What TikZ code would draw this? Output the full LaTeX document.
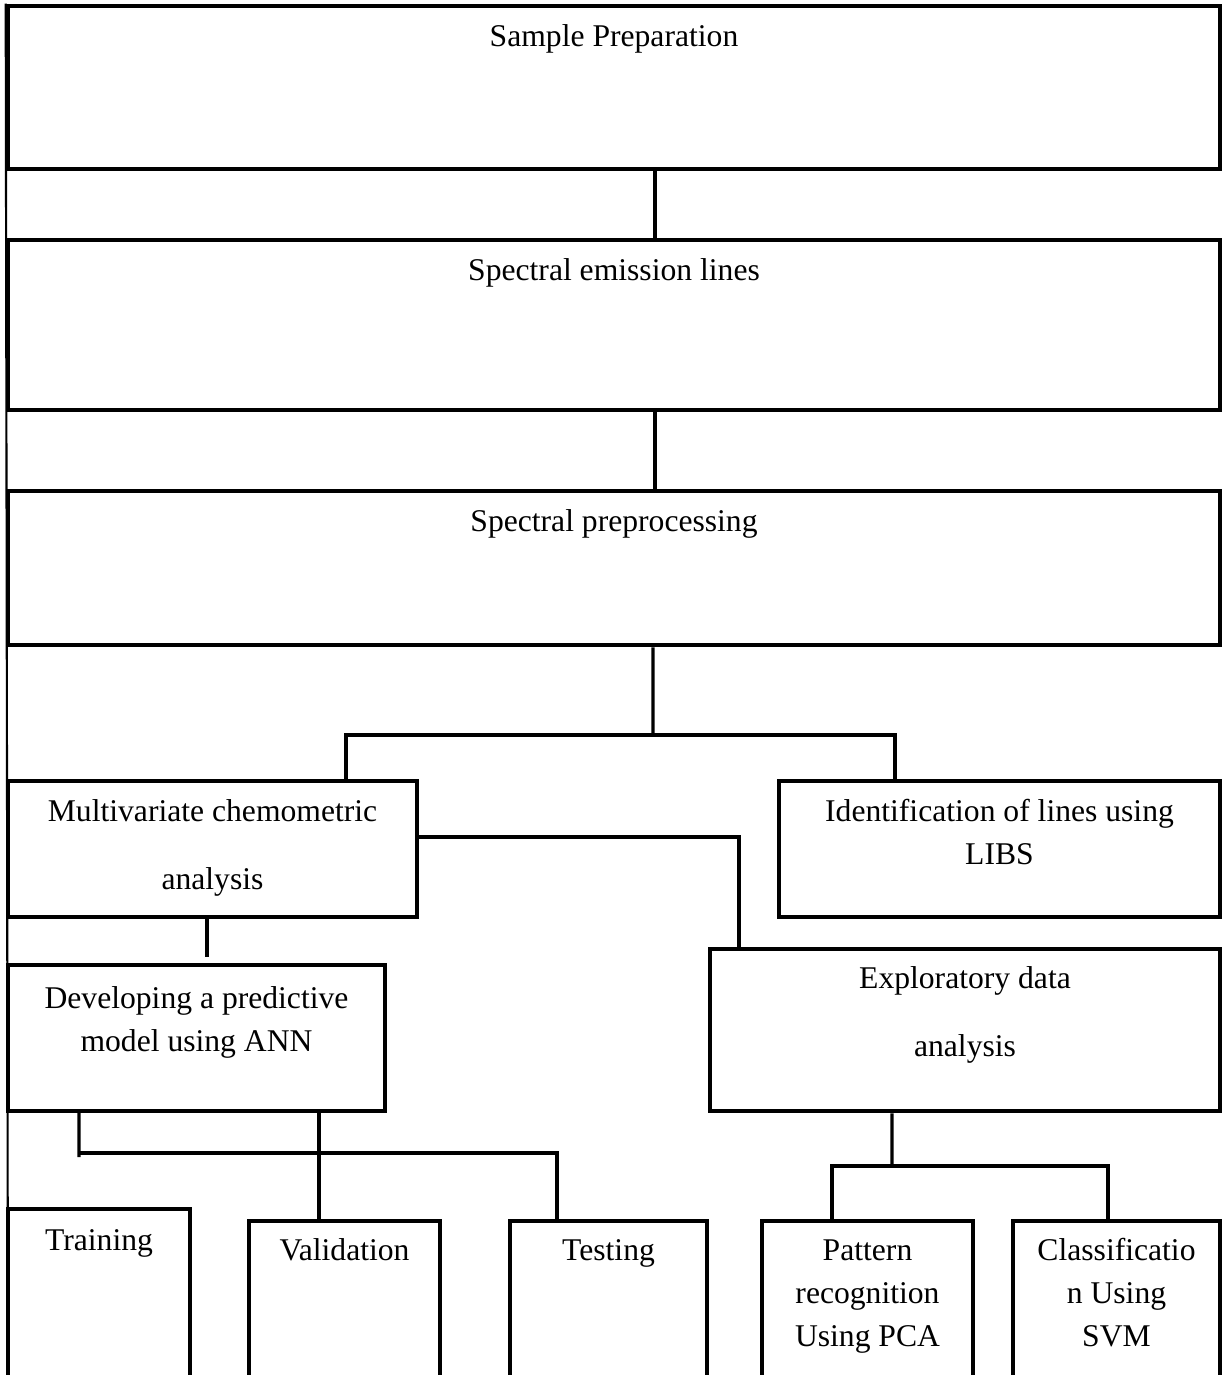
\documentclass[tikz,border=0pt]{standalone}
\usepackage{fontspec}
\setmainfont{Liberation Serif}
\usetikzlibrary{shapes,arrows}
\usetikzlibrary{positioning,fit}

\begin{document}
\begin{tikzpicture}[x=0.02cm, y=-0.02cm,
        box/.style={draw=black, line width=2.6pt, inner sep=0pt},
        conn/.style={draw=black, line width=1.9pt},
        rule/.style={draw=black, line width=1.2pt},
        lbl/.style={inner sep=0pt, align=center, font=\fontsize{18}{24.5}\selectfont}]
    \useasboundingbox (0,0) rectangle (1222,1375);
    \clip (0,0) rectangle (1222,1375);

    \node[box, fit={(8,6) (1220,169)}] (prep) {};
    \node[box, fit={(8,240) (1220,410)}] (emis) {};
    \node[box, fit={(8,491) (1220,645)}] (pre) {};
    \node[box, fit={(8,781) (417,917)}] (multi) {};
    \node[box, fit={(779,781) (1220,917)}] (ident) {};
    \node[box, fit={(8,965) (385,1111)}] (devel) {};
    \node[box, fit={(710,949) (1220,1111)}] (explo) {};
    \node[box, fit={(8,1209) (190,1420)}] (train) {};
    \node[box, fit={(249,1221) (440,1420)}] (valid) {};
    \node[box, fit={(510,1221) (707,1420)}] (test) {};
    \node[box, fit={(762,1221) (973,1420)}] (pat) {};
    \node[box, fit={(1013,1221) (1220,1420)}] (cls) {};

    \node[lbl, below=0.25cm of prep.north] (prepT) {\strut Sample Preparation};
    \node[lbl, below=0.25cm of emis.north] (emisT) {\strut Spectral emission lines};
    \node[lbl, below=0.25cm of pre.north] (preT) {\strut Spectral preprocessing};
    \node[lbl, below=0.24cm of multi.north] (multiT) {\strut Multivariate chemometric\\[14.5pt] analysis};
    \node[lbl, below=0.24cm of ident.north] (identT) {\strut Identification of lines using\\ LIBS};
    \node[lbl, below=0.30cm of devel.north] (develT) {\strut Developing a predictive\\ model using ANN};
    \node[lbl, below=0.22cm of explo.north] (exploT) {\strut Exploratory data\\[14.5pt] analysis};
    \node[lbl, below=0.26cm of train.north] (trainT) {\strut Training};
    \node[lbl, below=0.22cm of valid.north] (validT) {\strut Validation};
    \node[lbl, below=0.22cm of test.north] (testT) {\strut Testing};
    \node[lbl, below=0.22cm of pat.north] (patT) {\strut Pattern\\ recognition\\ Using PCA};
    \node[lbl, below=0.22cm of cls.north] (clsT) {\strut Classificatio\\ n Using\\ SVM};

    \coordinate (split1) at (653,735);
    \coordinate (split2) at (79,1153);
    \coordinate (split3) at (892,1166);
    \coordinate (stub) at (207,957);
    \coordinate (bottom) at (8,1380);
    \coordinate (vtop) at ([xshift=-0.51cm]valid.north);

    \draw[rule] (prep.north west) -- (bottom);
    \draw[conn] ([xshift=0.82cm]prep.south) -- ([xshift=0.82cm]emis.north);
    \draw[conn] ([xshift=0.82cm]emis.south) -- ([xshift=0.82cm]pre.north);
    \draw[conn] ([xshift=0.78cm]pre.south) -- (split1);
    \draw[conn] ([xshift=2.67cm]multi.north) |- (split1) -| ([xshift=-2.09cm]ident.north);
    \draw[conn] ([yshift=0.24cm]multi.east) -| ([xshift=-4.52cm]explo.north);
    \draw[conn] (multi.south -| stub) -- (stub);
    \draw[conn] ([xshift=-2.35cm,yshift=0.06cm]devel.south) -- ([yshift=-0.08cm]split2);
    \draw[conn] (split2) -| ([xshift=-1.03cm]test.north);
    \draw[conn] (vtop) -- (vtop |- devel.south);
    \draw[conn] ([xshift=-1.46cm]explo.south) -- (split3);
    \draw[conn] ([xshift=-0.71cm]pat.north) |- (split3) -| ([xshift=-0.17cm]cls.north);
\end{tikzpicture}
\end{document}
